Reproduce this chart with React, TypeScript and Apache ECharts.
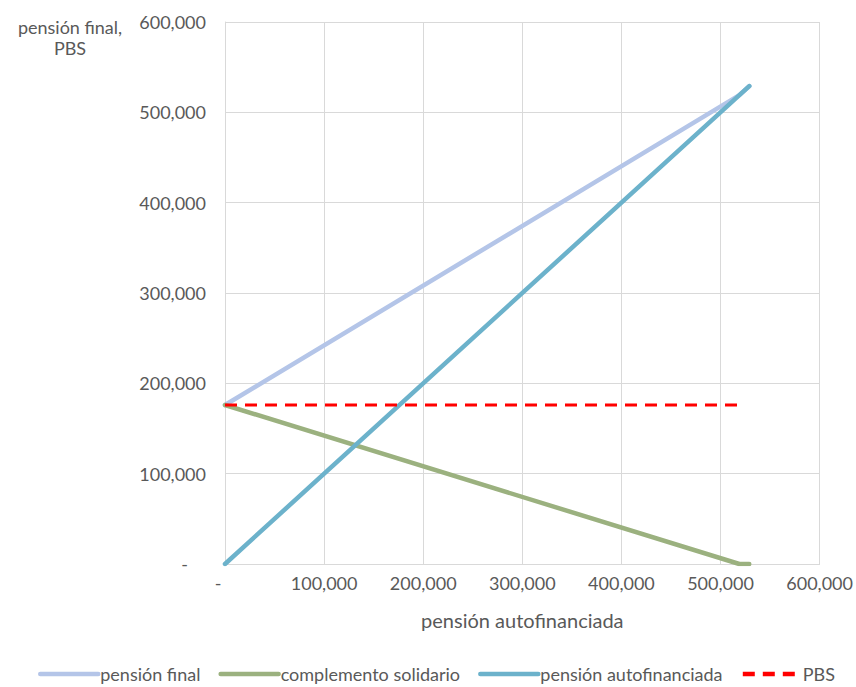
import React, { useEffect, useRef } from "react";
import * as echarts from "echarts";

const xValues = [0, 519000, 529000];
const pensionFinal = [176000, 519000, 529000];
const complementoSolidario = [176000, 0, 0];
const pensionAutofinanciada = [0, 519000, 529000];
const pbsX = [0, 519000];
const pbsValues = [176000, 176000];

const seriesNames = ["pensión final", "complemento solidario", "pensión autofinanciada", "PBS"];

const pairs = (xs: number[], ys: number[]) => xs.map((x, i) => [x, ys[i]]);

const fmt = (v: number) => (v === 0 ? "{z|-}" : v.toLocaleString("en-US"));

export default function App() {
  const ref = useRef<HTMLDivElement>(null);
  useEffect(() => {
    document.body.style.margin = "0";
    if (!ref.current) return;
    const chart = echarts.init(ref.current, null, { renderer: "svg" });
    const font = "Lato, 'Open Sans', sans-serif";
    const textColor = "#595959";
    const fs = 18;
    chart.setOption({
      animation: false,
      textStyle: { fontFamily: font },
      grid: { left: 225, right: 32, top: 22, bottom: 123 },
      xAxis: {
        type: "value",
        min: 0,
        max: 600000,
        interval: 100000,
        name: "pensión autofinanciada",
        nameLocation: "middle",
        nameGap: 46,
        nameTextStyle: { color: textColor, fontSize: 20, fontFamily: font },
        axisLine: { show: true, lineStyle: { color: "#d9d9d9", width: 1 } },
        axisTick: { show: false },
        splitLine: { show: true, lineStyle: { color: "#d9d9d9", width: 1 } },
        axisLabel: {
          color: textColor,
          fontSize: fs,
          fontFamily: font,
          margin: 10,
          formatter: fmt,
          rich: { z: { color: textColor, fontSize: fs, fontFamily: font, padding: [0, 14, 0, 0] } },
        },
      },
      yAxis: {
        type: "value",
        min: 0,
        max: 600000,
        interval: 100000,
        axisLine: { show: true, lineStyle: { color: "#d9d9d9", width: 1 } },
        axisTick: { show: false },
        splitLine: { show: true, lineStyle: { color: "#d9d9d9", width: 1 } },
        axisLabel: {
          color: textColor,
          fontSize: fs,
          fontFamily: font,
          margin: 19,
          formatter: fmt,
          rich: { z: { color: textColor, fontSize: fs, fontFamily: font, padding: [0, 18, 0, 0] } },
        },
      },
      legend: {
        top: 660,
        left: 33,
        itemWidth: 58,
        itemHeight: 10,
        itemGap: 18,
        itemStyle: { opacity: 0 },
        lineStyle: { width: 4.5 },
        textStyle: { color: textColor, fontSize: fs, fontFamily: font, padding: [0, 0, 0, -3] },
        data: seriesNames,
      },
      graphic: [
        {
          type: "text",
          x: 70,
          y: 16,
          style: {
            text: "pensión final,\nPBS",
            fill: textColor,
            font: `${fs}px ${font}`,
            align: "center",
            verticalAlign: "top",
            lineHeight: 21,
          },
        },
      ],
      series: [
        {
          name: seriesNames[0],
          type: "line",
          symbol: "none",
          data: pairs(xValues, pensionFinal),
          lineStyle: { color: "#b4c5e8", width: 4.5, cap: "round" },
          itemStyle: { color: "#b4c5e8" },
          z: 2,
        },
        {
          name: seriesNames[1],
          type: "line",
          symbol: "none",
          data: pairs(xValues, complementoSolidario),
          lineStyle: { color: "#9bb17f", width: 4.5, cap: "round" },
          itemStyle: { color: "#9bb17f" },
          z: 3,
        },
        {
          name: seriesNames[2],
          type: "line",
          symbol: "none",
          data: pairs(xValues, pensionAutofinanciada),
          lineStyle: { color: "#6cb2cb", width: 4.5, cap: "round" },
          itemStyle: { color: "#6cb2cb" },
          z: 4,
        },
        {
          name: seriesNames[3],
          type: "line",
          symbol: "none",
          data: pairs(pbsX, pbsValues),
          lineStyle: { color: "#ff0000", width: 3, type: [12, 8] },
          itemStyle: { color: "#ff0000" },
          z: 5,
        },
      ],
    });
    return () => chart.dispose();
  }, []);
  return <div ref={ref} style={{ width: 856, height: 687 }} />;
}
